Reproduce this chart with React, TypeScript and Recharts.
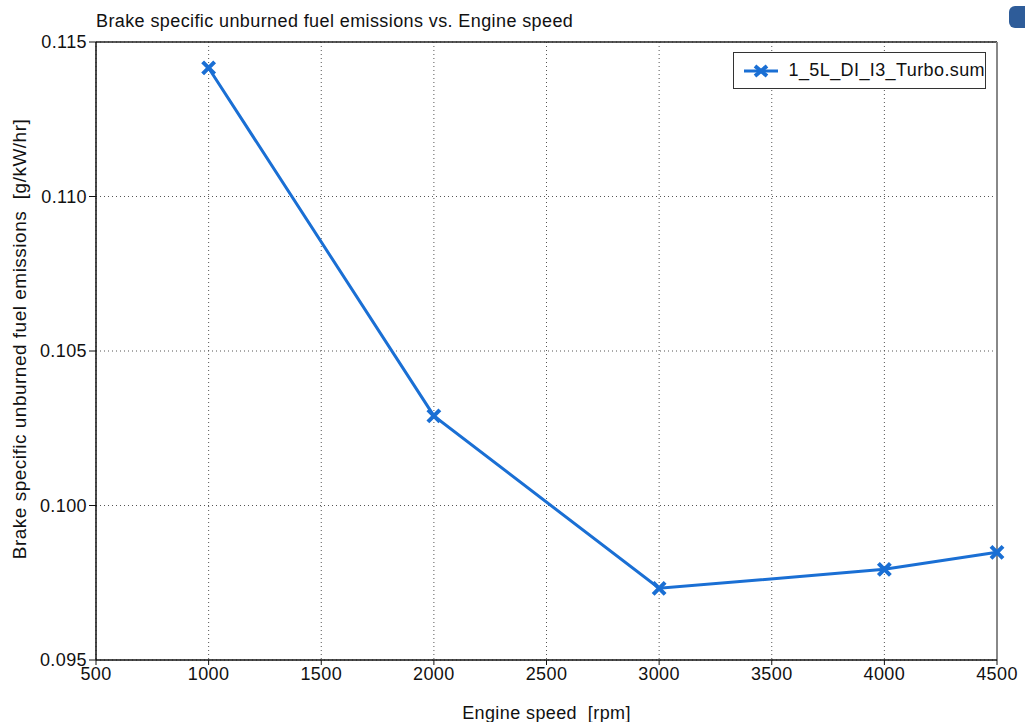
import { CartesianGrid, Line, LineChart, ReferenceLine, XAxis, YAxis } from "recharts";

const engineSpeed = [1000, 2000, 3000, 4000, 4500];
const unburnedFuel = [0.11416, 0.1029, 0.09732, 0.097935, 0.098485];
const xTicks = [500, 1000, 1500, 2000, 2500, 3000, 3500, 4000, 4500];
const yTicks = [0.095, 0.1, 0.105, 0.11, 0.115];
const seriesName = "1_5L_DI_I3_Turbo.sum";

const data = engineSpeed.map((rpm, i) => ({ rpm, value: unburnedFuel[i] }));

const BLUE = "#1a6fd4";
const FONT = "'Liberation Sans', Arial, sans-serif";
const FS = 18;
const LS = "0.4px";

const Cross = (props: any) => {
  const { cx, cy } = props;
  if (cx == null || cy == null) return null;
  const s = 6;
  return (
    <path
      d={`M${cx - s},${cy - s}L${cx + s},${cy + s}M${cx - s},${cy + s}L${cx + s},${cy - s}`}
      stroke={BLUE}
      strokeWidth={4}
      fill="none"
    />
  );
};

export default function App() {
  return (
    <div style={{ position: "absolute", left: 0, top: 0, width: 1025, height: 722, background: "#fff" }}>
      <LineChart
        width={1025}
        height={722}
        data={data}
        margin={{ top: 42, right: 28, left: 0, bottom: 0 }}
        style={{ fontFamily: FONT, letterSpacing: LS }}
      >
        <CartesianGrid stroke="#555" strokeDasharray="1 3" />
        <XAxis
          dataKey="rpm"
          type="number"
          domain={[500, 4500]}
          ticks={xTicks}
          height={62}
          axisLine={{ stroke: "#111", strokeWidth: 1.5 }}
          tickLine={{ stroke: "#111" }}
          tickSize={5}
          tick={{ fill: "#111", fontSize: FS }}
          label={{ value: "Engine speed\u00a0\u00a0[rpm]", position: "insideBottom", offset: 3, fill: "#111", fontSize: FS }}
        />
        <YAxis
          type="number"
          domain={[0.095, 0.115]}
          ticks={yTicks}
          width={96}
          allowDataOverflow
          axisLine={{ stroke: "#111", strokeWidth: 1.5 }}
          tickLine={{ stroke: "#111" }}
          tickSize={7}
          tickMargin={2}
          tickFormatter={(v: number) => v.toFixed(3)}
          tick={{ fill: "#111", fontSize: FS }}
          label={{
            value: "Brake specific unburned fuel emissions\u00a0\u00a0[g/kW/hr]",
            angle: -90,
            position: "insideLeft",
            offset: 19,
            dy: -12,
            fill: "#111",
            fontSize: 19,
            style: { textAnchor: "middle", letterSpacing: "0.5px" },
          }}
        />
        <ReferenceLine y={0.115} stroke="#222" strokeWidth={1.5} />
        <ReferenceLine x={4500} stroke="#888" strokeWidth={2} />
        <Line
          dataKey="value"
          name={seriesName}
          stroke={BLUE}
          strokeWidth={3}
          dot={<Cross />}
          activeDot={false}
          isAnimationActive={false}
        />
      </LineChart>
      <div
        style={{
          position: "absolute",
          left: 96,
          top: 11,
          fontFamily: FONT,
          fontSize: FS,
          letterSpacing: LS,
          color: "#111",
          whiteSpace: "nowrap",
        }}
      >
        Brake specific unburned fuel emissions vs. Engine speed
      </div>
      <div
        style={{
          position: "absolute",
          left: 1009,
          top: 6,
          width: 24,
          height: 22,
          borderRadius: 6,
          background: "#2e5c99",
        }}
      />
      <div
        style={{
          position: "absolute",
          left: 733,
          top: 52,
          width: 253,
          height: 37,
          border: "1px solid #333",
          background: "#fff",
          display: "flex",
          alignItems: "center",
          fontFamily: FONT,
          fontSize: FS,
          letterSpacing: LS,
          color: "#111",
          boxSizing: "border-box",
          whiteSpace: "nowrap",
        }}
      >
        <svg width={46} height={20} style={{ marginLeft: 10 }}>
          <line x1={0} y1={10} x2={34} y2={10} stroke={BLUE} strokeWidth={3} />
          <path d="M11,5L23,15M11,15L23,5" stroke={BLUE} strokeWidth={4} />
        </svg>
        <span>{seriesName}</span>
      </div>
    </div>
  );
}
